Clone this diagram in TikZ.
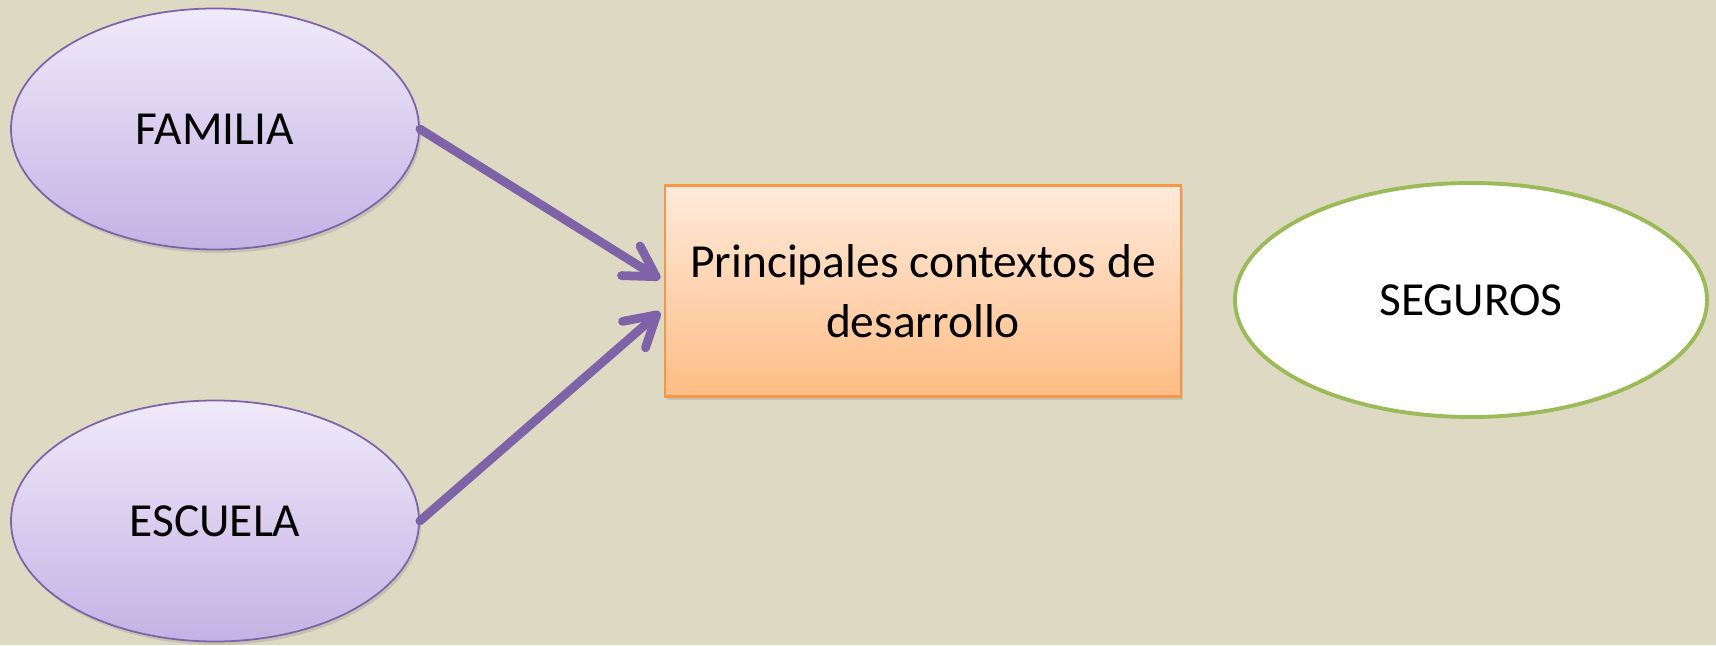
\documentclass[tikz,border=0pt]{standalone}
\usepackage{fontspec}
\setmainfont{Carlito}
\usetikzlibrary{positioning,arrows.meta,shadows,calc,shapes.geometric}

\definecolor{bgtan}{HTML}{DDD9C3}
\definecolor{lilatop}{HTML}{F0EAFA}
\definecolor{lilabot}{HTML}{C4B2E4}
\definecolor{lilaline}{HTML}{7F63A8}
\definecolor{naranjatop}{HTML}{FFEADB}
\definecolor{naranjabot}{HTML}{FFBD85}
\definecolor{naranjaline}{HTML}{F79646}
\definecolor{verdeline}{HTML}{9BBB59}

\begin{document}
\begin{tikzpicture}[
		every node/.style={font=\fontsize{27}{34}\selectfont,inner sep=0pt},
		sombra/.style={drop shadow={opacity=0.25,shadow xshift=0.04cm,shadow yshift=-0.07cm}},
		contexto/.style={ellipse,draw=lilaline,line width=1pt,top color=lilatop,bottom color=lilabot,
			minimum width=8.16cm,minimum height=4.82cm,sombra},
		centro/.style={rectangle,draw=naranjaline,line width=1.2pt,top color=naranjatop,bottom color=naranjabot,
			minimum width=10.32cm,minimum height=4.22cm,align=center,sombra},
		seguro/.style={ellipse,draw=verdeline,line width=2.2pt,fill=white,
			minimum width=9.44cm,minimum height=4.68cm},
		flecha/.style={draw=lilaline,line width=5pt,line cap=round,
			-{Straight Barb[length=6mm,width=7mm,round]}}
	]

	% Background
	\fill[bgtan] (0,0) rectangle (34.32,12.9);
	\useasboundingbox (0,0) rectangle (34.32,12.9);

	% Nodes
	\node[contexto] (familia) at (4.30,10.32) {FAMILIA};
	\node[contexto] (escuela) at (4.30,2.48) {ESCUELA};
	\node[centro] (principal) at (18.46,7.08) {Principales contextos de\\desarrollo};
	\node[seguro] (seguros) at (29.42,6.90) {SEGUROS};

	% Arrows
	\coordinate (llegada1) at ($(principal.west)+(-0.08,0.24)$);
	\coordinate (llegada2) at ($(principal.west)+(-0.08,-0.42)$);
	\draw[flecha] (familia.east) -- (llegada1);
	\draw[flecha] (escuela.east) -- (llegada2);

\end{tikzpicture}
\end{document}
